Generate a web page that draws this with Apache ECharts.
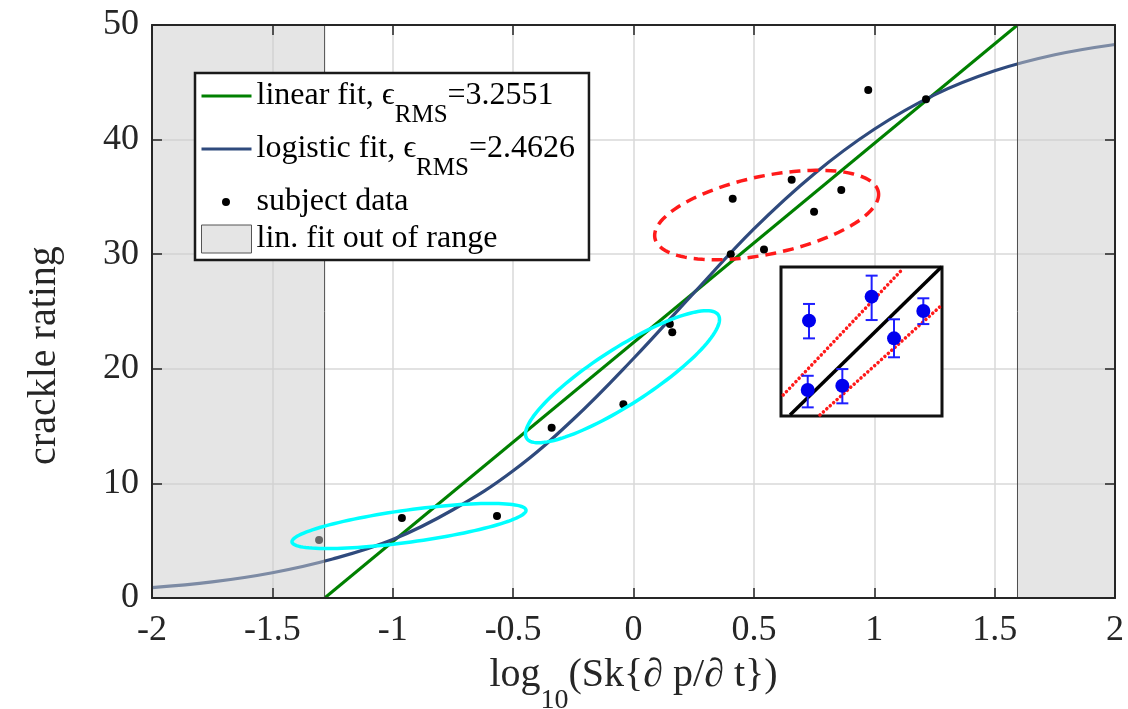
<!DOCTYPE html>
<html><head><meta charset="utf-8">
<script src="https://cdn.jsdelivr.net/npm/echarts@6/dist/echarts.min.js"></script>
<style>html,body{margin:0;padding:0;background:#fff}#c{width:1128px;height:709px}</style>
</head><body><div id="c"></div>
<script>
// ---- data ----
const xRange = [-2, 2];
const yRange = [0, 50];
const subjectX = [-1.306, -0.962, -0.567, -0.340, -0.042, 0.151, 0.161, 0.404, 0.412, 0.542, 0.657, 0.750, 0.863, 0.975, 1.215];
const subjectY = [5.06, 6.98, 7.16, 14.86, 16.9, 23.9, 23.2, 30.0, 34.84, 30.4, 36.5, 33.7, 35.6, 44.33, 43.52];
const linearFitX = [-1.283, 1.595];
const linearFitY = [0, 50];
const logisticX = [-2, -1.75, -1.5, -1.25, -1, -0.75, -0.5, -0.25, 0, 0.25, 0.5, 0.75, 1, 1.25, 1.5, 1.75, 2];
const logisticY = [0.9, 1.4, 2.2, 3.4, 5.1, 7.7, 11.1, 15.6, 20.9, 26.6, 32.2, 37.0, 40.9, 43.9, 46.0, 47.4, 48.3];
const outOfRange = [[-2, -1.283], [1.595, 2]];
const rmsLinear = '3.2551';
const rmsLogistic = '2.4626';
// ellipses: [centerX, centerY, semiAxis1 dx, dy, semiAxis2 dx, dy] in data units
const ellipsesCyan = [[-0.9325, 6.28, 0.486, 1.396, 0.0091, -1.387], [-0.0457, 19.31, 0.398, 5.384, 0.0631, -2.051]];
const ellipsesRed = [[0.553, 33.42, 0.464, 2.033, 0.0331, -3.333]];
// inset (its own 0..10 scale)
const insetX = [1.66, 1.74, 3.81, 5.63, 7.02, 8.84];
const insetY = [1.74, 6.40, 2.03, 8.01, 5.21, 7.05];
const insetLow = [0.58, 5.21, 0.85, 6.44, 3.94, 6.17];
const insetHigh = [2.70, 7.52, 3.15, 9.42, 6.49, 7.90];
const insetFitLine = [[0.56, 0.07], [9.98, 10.02]];
const insetBandUpper = [[0.14, 1.41], [7.50, 9.80]];
const insetBandLower = [[2.42, 0.07], [9.88, 7.34]];
const insetGridX = [3.15];
const insetGridY = [1.74, 6.66];

// ---- chart ----
const FONT = '"Liberation Serif","Times New Roman",serif';
const AX = '#262626';
const chart = echarts.init(document.getElementById('c'), null, {renderer: 'canvas'});

function frameX(pos) {
  return {type: 'value', gridIndex: 0, position: pos, min: xRange[0], max: xRange[1], interval: 0.5, z: 6,
    axisLine: {show: true, onZero: false, lineStyle: {color: AX, width: 2}},
    axisTick: {show: true, inside: true, length: 10, lineStyle: {color: AX, width: 1.5}},
    axisLabel: {show: false}, splitLine: {show: false}};
}
function frameY(pos) {
  return {type: 'value', gridIndex: 0, position: pos, min: yRange[0], max: yRange[1], interval: 10, z: 6,
    axisLine: {show: true, onZero: false, lineStyle: {color: AX, width: 2}},
    axisTick: {show: true, inside: true, length: 10, lineStyle: {color: AX, width: 1.5}},
    axisLabel: {show: false}, splitLine: {show: false}};
}

function ellipseRender(color, dash) {
  return function (params, api) {
    const cx = api.value(0), cy = api.value(1), ux = api.value(2), uy = api.value(3), vx = api.value(4), vy = api.value(5);
    const pts = [];
    for (let i = 0; i < 120; i++) {
      const t = i / 120 * 2 * Math.PI;
      pts.push(api.coord([cx + ux * Math.cos(t) + vx * Math.sin(t), cy + uy * Math.cos(t) + vy * Math.sin(t)]));
    }
    return {type: 'polygon', shape: {points: pts}, style: {fill: 'none', stroke: color, lineWidth: 3.5, lineDash: dash || null}};
  };
}

const option = {
  animation: false,
  backgroundColor: '#fff',
  grid: [
    {left: 152, top: 25, width: 963, height: 573, outerBoundsMode: 'none', containLabel: false},
    {left: 781, top: 267, width: 161, height: 149, outerBoundsMode: 'none', containLabel: false, show: true,
      backgroundColor: '#fff', borderColor: '#111', borderWidth: 3, z: 10}
  ],
  xAxis: [
    {type: 'value', gridIndex: 0, position: 'bottom', min: xRange[0], max: xRange[1], interval: 0.5, z: 0,
      axisLine: {show: false, onZero: false}, axisTick: {show: false},
      axisLabel: {show: true, margin: 15, color: AX, fontFamily: FONT, fontSize: 36, showMinLabel: true, showMaxLabel: true},
      splitLine: {show: true, lineStyle: {color: '#d9d9d9', width: 1.5}},
      name: '{a|log}{b|10}(Sk{∂ p/∂ t})', nameLocation: 'middle', nameGap: 37, nameMoveOverlap: false,
      nameTextStyle: {fontFamily: FONT, fontSize: 40, color: AX,
        rich: {a: {fontFamily: FONT, fontSize: 40, color: AX}, b: {fontFamily: FONT, fontSize: 28, color: AX, padding: [52, 0, 0, 0]}}}},
    frameX('bottom'),
    frameX('top'),
    {type: 'value', gridIndex: 1, min: 0, max: 10, show: false, z: 10}
  ],
  yAxis: [
    {type: 'value', gridIndex: 0, position: 'left', min: yRange[0], max: yRange[1], interval: 10, z: 0,
      axisLine: {show: false, onZero: false}, axisTick: {show: false},
      axisLabel: {show: true, margin: 13, color: AX, fontFamily: FONT, fontSize: 36},
      splitLine: {show: true, lineStyle: {color: '#d9d9d9', width: 1.5}},
      name: 'crackle rating', nameLocation: 'middle', nameGap: 88, nameMoveOverlap: false,
      nameTextStyle: {fontFamily: FONT, fontSize: 40, color: AX, padding: [0, 88, 0, 0]}},
    frameY('left'),
    frameY('right'),
    {type: 'value', gridIndex: 1, min: 0, max: 10, show: false, z: 10}
  ],
  legend: {
    orient: 'vertical', left: 195, top: 73, padding: [7, 14, 5, 5], itemGap: 5,
    itemWidth: 50, itemHeight: 28, backgroundColor: '#fff', borderColor: '#1a1a1a', borderWidth: 2.5,
    z: 20, selectedMode: false,
    data: [
      {name: 'linear', itemStyle: {opacity: 0}, lineStyle: {width: 3, color: '#008000'}},
      {name: 'logistic', itemStyle: {opacity: 0}, lineStyle: {width: 3, color: '#2f4a7d'}},
      {name: 'subject', icon: 'path://M0,0L0.01,0M50,28L50.01,28M20.5,14a4,4 0 1,0 8,0a4,4 0 1,0 -8,0z', itemStyle: {color: '#000', borderWidth: 0, opacity: 1}},
      {name: 'range', icon: 'rect', itemStyle: {color: '#e5e5e5', borderColor: '#555', borderWidth: 1}}
    ],
    formatter: function (name) {
      if (name === 'linear') return '{m|linear fit, ϵ}{s|RMS}{m|=' + rmsLinear + '}';
      if (name === 'logistic') return '{m|logistic fit, ϵ}{s|RMS}{m|=' + rmsLogistic + '}';
      if (name === 'subject') return '{p|subject data}';
      return '{p|lin. fit out of range}';
    },
    textStyle: {fontFamily: FONT, fontSize: 32, color: '#000',
      rich: {
        m: {fontFamily: FONT, fontSize: 32, lineHeight: 32, color: '#000', verticalAlign: 'top'},
        s: {fontFamily: FONT, fontSize: 25, lineHeight: 25, color: '#000', verticalAlign: 'top', padding: [23, 0, 0, 0]},
        p: {fontFamily: FONT, fontSize: 32, lineHeight: 32, color: '#000'}
      }}
  },
  series: [
    {name: 'linear', type: 'line', xAxisIndex: 0, yAxisIndex: 0, z: 2, symbol: 'none', showSymbol: false,
      data: linearFitX.map((x, i) => [x, linearFitY[i]]), lineStyle: {color: '#008000', width: 3}, itemStyle: {color: '#008000'}},
    {name: 'logistic', type: 'line', xAxisIndex: 0, yAxisIndex: 0, z: 2, symbol: 'none', showSymbol: false, smooth: 0.4,
      data: logisticX.map((x, i) => [x, logisticY[i]]), lineStyle: {color: '#2f4a7d', width: 3.2}, itemStyle: {color: '#2f4a7d'}},
    {name: 'subject', type: 'scatter', xAxisIndex: 0, yAxisIndex: 0, z: 3, symbolSize: 8,
      data: subjectX.map((x, i) => [x, subjectY[i]]), itemStyle: {color: '#000', opacity: 1}},
    {name: 'range', type: 'custom', xAxisIndex: 0, yAxisIndex: 0, z: 4, encode: {x: [0, 1]},
      itemStyle: {color: '#e5e5e5', borderColor: '#555', borderWidth: 1},
      data: outOfRange,
      renderItem: function (params, api) {
        const p0 = api.coord([api.value(0), yRange[1]]);
        const p1 = api.coord([api.value(1), yRange[0]]);
        return {type: 'rect', shape: {x: p0[0], y: p0[1], width: p1[0] - p0[0], height: p1[1] - p0[1]},
          style: {fill: 'rgba(204,204,204,0.5)', stroke: '#4d4d4d', lineWidth: 1}};
      }},
    {name: 'cyanEllipses', type: 'custom', xAxisIndex: 0, yAxisIndex: 0, z: 5, data: ellipsesCyan,
      renderItem: ellipseRender('#00ffff')},
    {name: 'redEllipse', type: 'custom', xAxisIndex: 0, yAxisIndex: 0, z: 5, data: ellipsesRed,
      renderItem: ellipseRender('#ff1a1a', [11, 7])},
    // inset
    {name: 'insetGrid', type: 'line', xAxisIndex: 3, yAxisIndex: 3, z: 11, data: [], silent: true,
      markLine: {silent: true, symbol: 'none', label: {show: false},
        lineStyle: {color: '#c8c8c8', width: 1.5, type: [2, 3]},
        data: insetGridX.map(v => ({xAxis: v})).concat(insetGridY.map(v => ({yAxis: v})))}},
    {name: 'insetUpper', type: 'line', xAxisIndex: 3, yAxisIndex: 3, z: 12, symbol: 'none', data: insetBandUpper,
      lineStyle: {color: '#ff1a1a', width: 3.5, type: [0.1, 4.5], cap: 'round'}},
    {name: 'insetLower', type: 'line', xAxisIndex: 3, yAxisIndex: 3, z: 12, symbol: 'none', data: insetBandLower,
      lineStyle: {color: '#ff1a1a', width: 3.5, type: [0.1, 4.5], cap: 'round'}},
    {name: 'insetFit', type: 'line', xAxisIndex: 3, yAxisIndex: 3, z: 12, symbol: 'none', data: insetFitLine,
      lineStyle: {color: '#000', width: 3.5}},
    {name: 'insetErr', type: 'custom', xAxisIndex: 3, yAxisIndex: 3, z: 13,
      data: insetX.map((x, i) => [x, insetLow[i], insetHigh[i]]),
      renderItem: function (params, api) {
        const lo = api.coord([api.value(0), api.value(1)]);
        const hi = api.coord([api.value(0), api.value(2)]);
        const hw = 6, st = {stroke: '#1f1fff', lineWidth: 2};
        return {type: 'group', children: [
          {type: 'line', shape: {x1: lo[0], y1: lo[1], x2: hi[0], y2: hi[1]}, style: st},
          {type: 'line', shape: {x1: lo[0] - hw, y1: lo[1], x2: lo[0] + hw, y2: lo[1]}, style: st},
          {type: 'line', shape: {x1: hi[0] - hw, y1: hi[1], x2: hi[0] + hw, y2: hi[1]}, style: st}
        ]};
      }},
    {name: 'insetPts', type: 'scatter', xAxisIndex: 3, yAxisIndex: 3, z: 14, symbolSize: 14,
      data: insetX.map((x, i) => [x, insetY[i]]), itemStyle: {color: '#0000ee', opacity: 1}}
  ]
};
chart.setOption(option);
</script></body></html>
